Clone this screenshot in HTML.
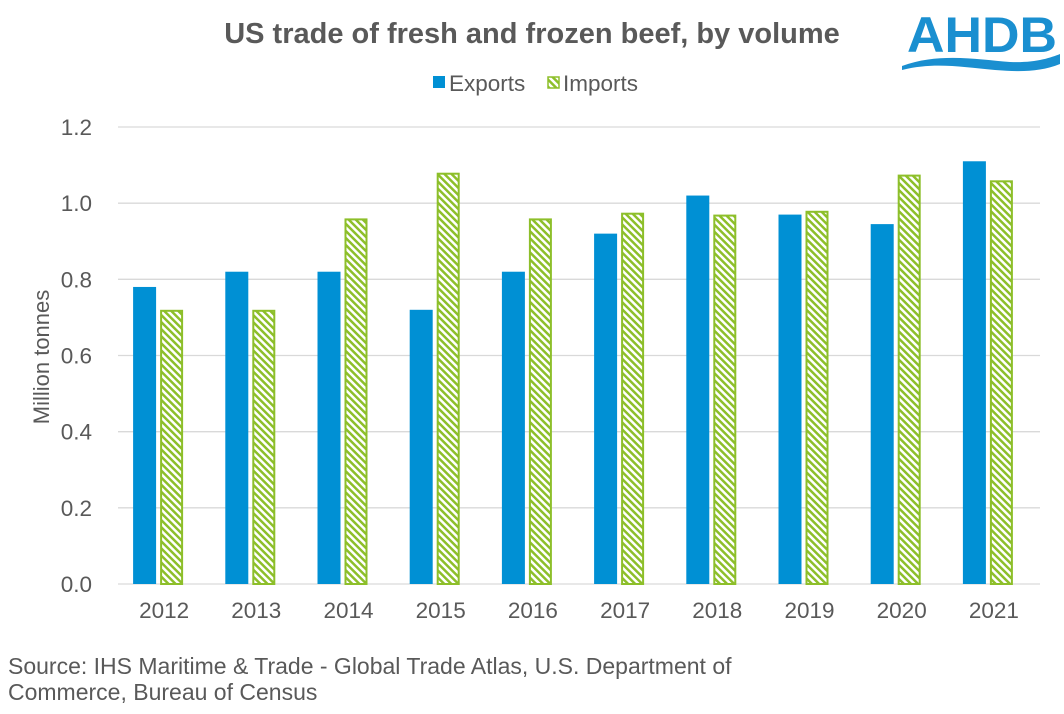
<!DOCTYPE html>
<html><head><meta charset="utf-8"><style>
body{margin:0;background:#fff;font-family:"Liberation Sans",sans-serif}
</style></head><body>
<svg width="1064" height="709" xmlns="http://www.w3.org/2000/svg">
<defs>
<pattern id="hatch" patternUnits="userSpaceOnUse" width="5" height="5" patternTransform="rotate(-45)">
<rect width="5" height="5" fill="#fff"/><rect width="2.5" height="5" fill="#8dbf2a"/>
</pattern>
</defs>
<text x="532" y="43" text-anchor="middle" font-size="29" font-weight="bold" fill="#595959">US trade of fresh and frozen beef, by volume</text>
<g>
<text x="982" y="52" text-anchor="middle" font-size="50" font-weight="bold" fill="#1a8fd0" textLength="150" lengthAdjust="spacingAndGlyphs">AHDB</text>
<path d="M902,66 C940,52 980,60 1010,62 C1035,63 1050,58 1060,54 L1060,64 C1040,72 1020,72 995,70 C960,67 935,62 902,70 Z" fill="#1a8fd0"/>
</g>
<g>
<rect x="433" y="76" width="12" height="12" fill="#0090d4"/>
<text x="449" y="91" font-size="22.5" fill="#595959">Exports</text>
<rect x="548" y="77" width="11" height="11" fill="url(#hatch)" stroke="#8dbf2a" stroke-width="1.5"/>
<text x="563" y="91" font-size="22.5" fill="#595959">Imports</text>
</g>
<g id="grid"></g><g id="bars"></g><g id="xl"></g>
<text transform="translate(49,357) rotate(-90)" text-anchor="middle" font-size="22" fill="#595959">Million tonnes</text>
<text x="8" y="674" font-size="23" fill="#595959">Source: IHS Maritime &amp; Trade - Global Trade Atlas, U.S. Department of</text>
<text x="8" y="700" font-size="23" fill="#595959">Commerce, Bureau of Census</text>
</svg>
<script>
const categories=["2012","2013","2014","2015","2016","2017","2018","2019","2020","2021"];
const exportsData=[0.78,0.82,0.82,0.72,0.82,0.92,1.02,0.97,0.945,1.11];
const importsData=[0.72,0.72,0.96,1.08,0.96,0.975,0.97,0.98,1.075,1.06];
const yTicks=[0,0.2,0.4,0.6,0.8,1.0,1.2];
const yTickLabels=["0.0","0.2","0.4","0.6","0.8","1.0","1.2"];
const NS="http://www.w3.org/2000/svg";
const x0=118,x1=1040,yB=584,yT=127,yMax=1.2;
const y=v=>yB-(v/yMax)*(yB-yT);
const step=(x1-x0)/categories.length;
const xc=i=>x0+step*(i+0.5);
function mk(tag,attrs,parent){const e=document.createElementNS(NS,tag);for(const k in attrs)e.setAttribute(k,attrs[k]);document.getElementById(parent).appendChild(e);return e;}
yTicks.forEach((t,i)=>{
 const l=mk('line',{x1:x0,x2:x1,y1:y(t),y2:y(t),stroke:'#d9d9d9','stroke-width':1.3},'grid');
 
 
 const tx=mk('text',{x:92,y:y(t)+8,'text-anchor':'end','font-size':22.5,fill:'#595959'},'grid');
 tx.textContent=yTickLabels[i];
 
 
});
categories.forEach((c,i)=>{
 const cx=xc(i);
 const e=mk('rect',{x:cx-31,y:y(exportsData[i]),width:23,height:yB-y(exportsData[i]),fill:'#0090d4'},'bars');
 
 
 const m=mk('rect',{x:cx-3,y:y(importsData[i])+1,width:21,height:yB-y(importsData[i])-1,fill:'url(#hatch)',stroke:'#8dbf2a','stroke-width':2},'bars');
 
 
 const t=mk('text',{x:cx,y:618,'text-anchor':'middle','font-size':22.5,fill:'#595959'},'xl');
 t.textContent=c;
 
 
});
</script>
</body></html>
